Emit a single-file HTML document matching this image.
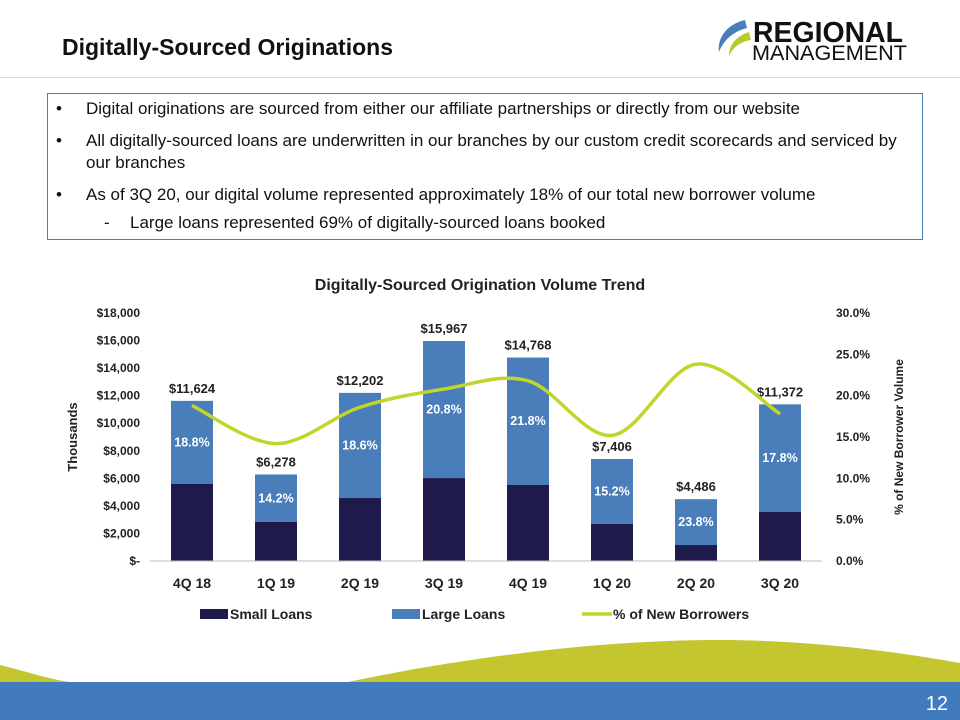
<!DOCTYPE html>
<html><head><meta charset="utf-8">
<style>
body{margin:0;width:960px;height:720px;overflow:hidden;background:#fff;font-family:"Liberation Sans",sans-serif;position:relative}
#title{position:absolute;left:62px;top:34px;font-size:23px;font-weight:bold;color:#111}
#rule{position:absolute;left:0;top:77px;width:960px;height:1px;background:#dfe59a}
#box{position:absolute;left:47px;top:93px;width:876px;height:147px;border:1px solid #4a7ebb;box-sizing:border-box;font-size:17px;color:#111}
#box div{position:absolute;left:38px;white-space:nowrap}
#box .b{position:absolute;left:-30px}
</style></head><body>
<div id="title">Digitally-Sourced Originations</div>
<div id="rule"></div>
<svg style="position:absolute;left:715px;top:12px" width="200" height="52">
<path d="M30 8 C12 12 2 26 4 40 C8 30 16 20 32 16Z" fill="#4a7ebb"/>
<path d="M34 20 C22 24 14 32 14 44 C18 36 24 30 36 28Z" fill="#b7cb2e"/>
<text x="38" y="30" font-size="29" font-weight="bold" fill="#111" font-family="Liberation Sans" textLength="150" lengthAdjust="spacingAndGlyphs">REGIONAL</text>
<text x="37" y="48" font-size="21" fill="#111" font-family="Liberation Sans" textLength="155" lengthAdjust="spacingAndGlyphs">MANAGEMENT</text>
</svg>
<div id="box">
<div style="top:5px"><span class="b">•</span>Digital originations are sourced from either our affiliate partnerships or directly from our website</div>
<div style="top:36px;line-height:22px"><span class="b">•</span>All digitally-sourced loans are underwritten in our branches by our custom credit scorecards and serviced by<br>our branches</div>
<div style="top:91px"><span class="b">•</span>As of 3Q 20, our digital volume represented approximately 18% of our total new borrower volume</div>
<div style="top:119px;left:82px"><span class="b" style="left:-26px">-</span>Large loans represented 69% of digitally-sourced loans booked</div>
</div>
<svg id="chart" style="position:absolute;left:0;top:0" width="960" height="720"></svg>
<script>
const categories=["4Q 18","1Q 19","2Q 19","3Q 19","4Q 19","1Q 20","2Q 20","3Q 20"];
const totals=[11624,6278,12202,15967,14768,7406,4486,11372];
const smallLoans=[5590,2830,4570,6020,5520,2690,1160,3560];
const pctNew=[18.8,14.2,18.6,20.8,21.8,15.2,23.8,17.8];
const leftTicks=[0,2000,4000,6000,8000,10000,12000,14000,16000,18000];
const rightTicks=[0,5,10,15,20,25,30];
const svg=document.getElementById('chart');const NS='http://www.w3.org/2000/svg';
function mk(t,a,txt){const e=document.createElementNS(NS,t);for(const k in a)e.setAttribute(k,a[k]);if(txt!==undefined)e.textContent=txt;svg.appendChild(e);return e;}
const x0=150,x1=822,yB=561,yT=313;
const yL=v=>yB-(v/18000)*(yB-yT);
const yR=v=>yB-(v/30)*(yB-yT);
const step=(x1-x0)/categories.length;
const xC=i=>x0+step*(i+0.5);
const bw=42;
const F='font-family:"Liberation Sans",sans-serif;font-weight:bold;';
let w=mk('path',{d:'M0 665 C40 675 60 683 86 683 L343 683 C500 650 650 636 765 641 C860 645 930 658 960 663 L960 690 L0 690Z',fill:'#c3c62e'});

let band=mk('rect',{x:0,y:682,width:960,height:38,fill:'#427bbd'});

let pn=mk('text',{x:948,y:710,'text-anchor':'end',fill:'#fff','font-size':20,style:'font-family:"Liberation Sans",sans-serif'},'12');

let ct=mk('text',{x:480,y:290,'text-anchor':'middle','font-size':16,fill:'#222',style:F},'Digitally-Sourced Origination Volume Trend');

leftTicks.forEach(v=>{const t=mk('text',{x:140,y:yL(v)+4,'text-anchor':'end','font-size':12,fill:'#222',style:F},v===0?'$-':'$'+v.toLocaleString('en-US'));
});
rightTicks.forEach(v=>{const t=mk('text',{x:836,y:yR(v)+4,'font-size':12,fill:'#222',style:F},v.toFixed(1)+'%');
});
let yt=mk('text',{transform:'translate(77,437) rotate(-90)','text-anchor':'middle','font-size':13,fill:'#222',style:F},'Thousands');

let yt2=mk('text',{transform:'translate(903,437) rotate(-90)','text-anchor':'middle','font-size':12,fill:'#222',style:F},'% of New Borrower Volume');

categories.forEach((c,i)=>{
 const x=xC(i)-bw/2;
 const lg=mk('rect',{x:x,y:yL(totals[i]),width:bw,height:yL(smallLoans[i])-yL(totals[i]),fill:'#4a7ebb'});
 
 const sm=mk('rect',{x:x,y:yL(smallLoans[i]),width:bw,height:yB-yL(smallLoans[i]),fill:'#1f1a4c'});
 
 const tl=mk('text',{x:xC(i),y:yL(totals[i])-8,'text-anchor':'middle','font-size':13,fill:'#222',style:F},'$'+totals[i].toLocaleString('en-US'));
 
 const xl=mk('text',{x:xC(i),y:588,'text-anchor':'middle','font-size':14,fill:'#222',style:F},c);
 
});
let ax=mk('line',{x1:x0,y1:yB,x2:x1,y2:yB,stroke:'#bbb'});

const pts=pctNew.map((v,i)=>[xC(i),yR(v)]);
let d='M'+pts[0][0]+' '+pts[0][1];
for(let i=0;i<pts.length-1;i++){const p0=pts[Math.max(0,i-1)],p1=pts[i],p2=pts[i+1],p3=pts[Math.min(pts.length-1,i+2)];
 const c1=[p1[0]+(p2[0]-p0[0])/6,p1[1]+(p2[1]-p0[1])/6],c2=[p2[0]-(p3[0]-p1[0])/6,p2[1]-(p3[1]-p1[1])/6];
 d+=` C${c1[0]} ${c1[1]} ${c2[0]} ${c2[1]} ${p2[0]} ${p2[1]}`;}
let ln=mk('path',{d:d,fill:'none',stroke:'#c3d42b','stroke-width':3.5});

pctNew.forEach((v,i)=>{
 const mid=(yL(totals[i])+yL(smallLoans[i]))/2;
 const t=mk('text',{x:xC(i),y:mid+4,'text-anchor':'middle','font-size':12.5,fill:'#fff',style:F},v.toFixed(1)+'%');
 
});
let l1=mk('rect',{x:200,y:609,width:28,height:10,fill:'#1f1a4c'});
let lt1=mk('text',{x:230,y:619,'font-size':14,fill:'#222',style:F},'Small Loans');
let l2=mk('rect',{x:392,y:609,width:28,height:10,fill:'#4a7ebb'});
let lt2=mk('text',{x:422,y:619,'font-size':14,fill:'#222',style:F},'Large Loans');
let l3=mk('line',{x1:582,y1:614,x2:612,y2:614,stroke:'#c3d42b','stroke-width':3.5});
let lt3=mk('text',{x:613,y:619,'font-size':14,fill:'#222',style:F},'% of New Borrowers');
</script>
</body></html>
